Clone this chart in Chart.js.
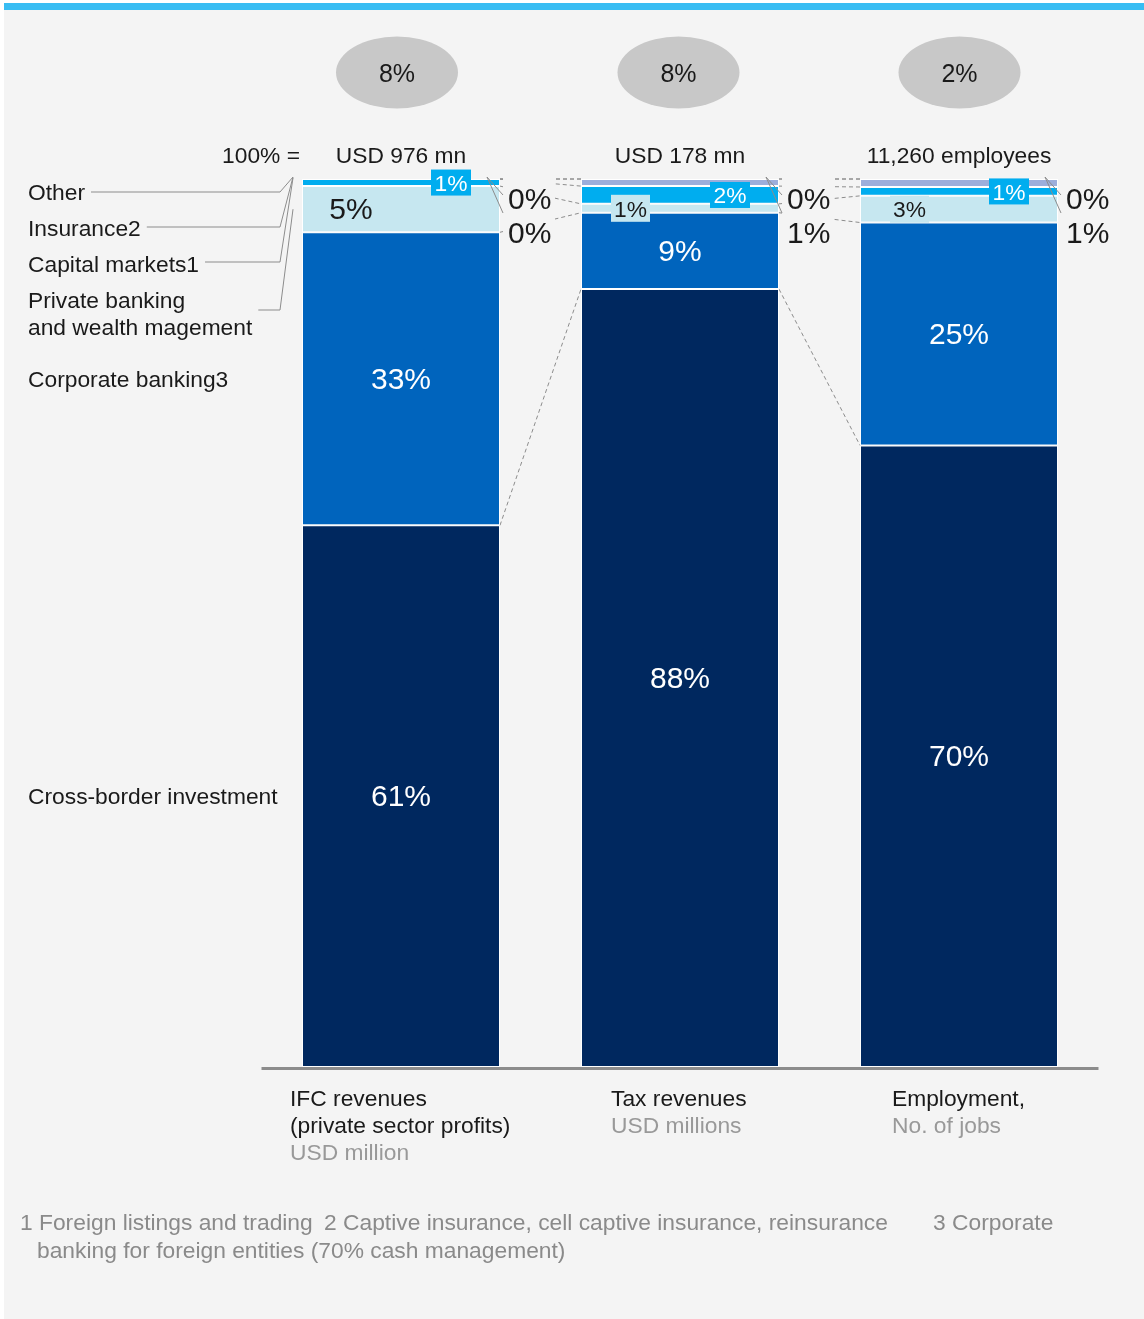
<!DOCTYPE html>
<html>
<head>
<meta charset="utf-8">
<script src="https://cdn.jsdelivr.net/npm/chart.js@4.4.1/dist/chart.umd.min.js"></script>
<style>
  html, body { margin: 0; padding: 0; background: #fff; }
  #panel { position: absolute; left: 4px; top: 3px; width: 1140px; height: 1316px; background: #f4f4f4; border-top: 7px solid #38bdf3; box-sizing: border-box; }
  #chart { position: absolute; left: 0; top: 0; }
</style>
</head>
<body>
<div id="panel"></div>
<canvas id="chart" width="1144" height="1319"></canvas>
<script>
"use strict";

// categories and headers
var categories = ["IFC revenues", "Tax revenues", "Employment"];
var catLines = [
    ["IFC revenues", "(private sector profits)", "USD million"],
    ["Tax revenues", "USD millions"],
    ["Employment,", "No. of jobs"]
];
var totals = ["USD 976 mn", "USD 178 mn", "11,260 employees"];
var shareOfEconomy = ["8%", "8%", "2%"];

// shares in %, bottom to top
var crossBorder      = [61, 87.6, 70];
var corporateBanking = [33, 8.6, 25.1];
var privateBanking   = [5.2, 1, 3];
var capitalMarkets   = [0.8, 2, 1];
var insurance        = [0, 0.8, 0.9];
var other            = [0, 0, 0];

var seriesNames = ["Cross-border investment", "Corporate banking3", "Private banking", "Capital markets1", "Insurance2", "Other"];
var colors = ["#00285f", "#0064bd", "#c6e7f0", "#00adef", "#9daedb", "#b8c4e4"];

var footnotes = [
    { text: "1 Foreign listings and trading", x: 20, y: 1222 },
    { text: "2 Captive insurance, cell captive insurance, reinsurance", x: 324, y: 1222 },
    { text: "3 Corporate", x: 933, y: 1222 },
    { text: "banking for foreign entities (70% cash management)", x: 37, y: 1250 }
];
var catLabelX = [290, 611, 892];
var bubbleShift = [-4, -1.5, 0.5];

var FONT = "'Liberation Sans', Arial, sans-serif";
var SMALL = 22.8;
function f(px) { return px + "px " + FONT; }
function pct(v) { return Math.round(v) + "%"; }

function text(ctx, s, x, y, px, color, align) {
    ctx.font = f(px);
    ctx.fillStyle = color;
    ctx.textAlign = align || "left";
    ctx.textBaseline = "middle";
    ctx.fillText(s, x, y + 2);
}

function line(ctx, pts, color, width, dash) {
    ctx.save();
    ctx.strokeStyle = color;
    ctx.lineWidth = width;
    ctx.setLineDash(dash || []);
    ctx.beginPath();
    ctx.moveTo(pts[0][0], pts[0][1]);
    for (var i = 1; i < pts.length; i++) ctx.lineTo(pts[i][0], pts[i][1]);
    ctx.stroke();
    ctx.restore();
}

var overlay = {
    id: "overlay",
    beforeDatasetsDraw: function(chart) {
        var ctx = chart.ctx;
        // dashed connectors between segment tops of neighbouring bars
        chart.data.datasets.forEach(function(ds, i) {
            var els = chart.getDatasetMeta(i).data;
            for (var j = 0; j < els.length - 1; j++) {
                var a = els[j], b = els[j + 1];
                line(ctx, [[a.x + a.width / 2, a.y], [b.x - b.width / 2, b.y]], "#8c8c8c", 1, [4, 3]);
            }
        });
    },
    afterDatasetsDraw: function(chart) {
        var ctx = chart.ctx;
        var area = chart.chartArea;
        var m = function(i) { return chart.getDatasetMeta(i).data; };
        var ds = chart.data.datasets;

        // axis line
        line(ctx, [[area.left, area.bottom + 1.5], [area.right, area.bottom + 1.5]], "#8c8c8c", 3);

        // big labels: cross-border and corporate banking
        [0, 1].forEach(function(i) {
            m(i).forEach(function(el, j) {
                text(ctx, pct(ds[i].data[j]), el.x, (el.y + el.base) / 2, 30, "#ffffff", "center");
            });
        });

        // private banking labels, left part of the bar
        m(2).forEach(function(el, j) {
            var cy = (el.y + el.base) / 2, v = pct(ds[2].data[j]);
            if (el.base - el.y > 30) {
                text(ctx, v, el.x - 50, cy, 30, "#1a1a1a", "center");
            } else {
                ctx.fillStyle = colors[2];
                ctx.fillRect(el.x - 69, cy - 13.5, 39, 27);
                text(ctx, v, el.x - 49.5, cy, SMALL, "#1a1a1a", "center");
            }
        });

        // capital markets labels, cyan boxes on the right
        m(3).forEach(function(el, j) {
            var cy = (el.y + el.base) / 2;
            ctx.fillStyle = colors[3];
            ctx.fillRect(el.x + 30, cy - 13, 40, 26);
            text(ctx, pct(ds[3].data[j]), el.x + 50, cy, SMALL, "#ffffff", "center");
        });

        // insurance / other callouts on the right
        m(4).forEach(function(el, j) {
            var r = el.x + el.width / 2;
            ctx.fillStyle = "#f4f4f4";
            ctx.fillRect(r + 3, area.top - 5, 52, 78);
            line(ctx, [[r - 13, area.top - 2], [r + 3, area.top + 16]], "#8c8c8c", 1);
            line(ctx, [[r - 13, area.top - 2], [r + 3, area.top + 34]], "#8c8c8c", 1);
            text(ctx, pct(ds[5].data[j]), r + 8, area.top + 20, 30, "#1a1a1a", "left");
            text(ctx, pct(ds[4].data[j]), r + 8, area.top + 54, 30, "#1a1a1a", "left");
        });

        // bubbles and totals above the bars
        m(0).forEach(function(el, j) {
            var bx = el.x + bubbleShift[j];
            ctx.fillStyle = "#c8c8c8";
            ctx.beginPath();
            ctx.ellipse(bx, 72.5, 61, 36, 0, 0, Math.PI * 2);
            ctx.fill();
            text(ctx, shareOfEconomy[j], bx, 73, 25, "#1a1a1a", "center");
            text(ctx, totals[j], el.x, 155, SMALL, "#1a1a1a", "center");
        });
        text(ctx, "100% =", 300, 155, SMALL, "#1a1a1a", "right");

        // category labels
        catLines.forEach(function(lines, j) {
            lines.forEach(function(s, k) {
                var grey = k === lines.length - 1;
                text(ctx, s, catLabelX[j], 1098 + k * 27, SMALL, grey ? "#999999" : "#1a1a1a", "left");
            });
        });

        // left legend
        var b0 = function(i) { var el = m(i)[0]; return (el.y + el.base) / 2; };
        var legend = [
            { s: "Other", y: 192, ly: 192, tx: 293, ty: area.top - 2 },
            { s: "Insurance2", y: 228, ly: 227, tx: 293, ty: area.top - 2 },
            { s: "Capital markets1", y: 264, ly: 262, tx: 293, ty: area.top - 1 },
            { s: "Private banking", y: 300 },
            { s: "and wealth magement", y: 327, ly: 310, tx: 293, ty: b0(2) }
        ];
        legend.forEach(function(l) {
            text(ctx, l.s, 28, l.y, SMALL, "#1a1a1a", "left");
            if (l.ly) {
                ctx.font = f(SMALL);
                var x0 = 28 + ctx.measureText(l.s).width + 6;
                line(ctx, [[x0, l.ly], [280, l.ly], [l.tx, l.ty]], "#8c8c8c", 1);
            }
        });
        text(ctx, seriesNames[1], 28, b0(1), SMALL, "#1a1a1a", "left");
        text(ctx, seriesNames[0], 28, b0(0), SMALL, "#1a1a1a", "left");

        // footnotes
        footnotes.forEach(function(n) {
            text(ctx, n.text, n.x, n.y, SMALL, "#8a8a8a", "left");
        });
    }
};

var series = [crossBorder, corporateBanking, privateBanking, capitalMarkets, insurance, other];
var config = {
    type: "bar",
    data: {
        labels: categories,
        datasets: series.map(function(d, i) {
            return {
                label: seriesNames[i],
                data: d,
                backgroundColor: colors[i],
                borderColor: "#ffffff",
                borderWidth: 1,
                borderSkipped: false,
                barPercentage: 0.7097,
                categoryPercentage: 1
            };
        })
    },
    options: {
        responsive: false,
        devicePixelRatio: 1,
        animation: false,
        layout: { padding: { top: 179, bottom: 252, left: 261.5, right: 45.5 } },
        plugins: { legend: { display: false }, tooltip: { enabled: false } },
        scales: {
            x: { display: false, stacked: true },
            y: { display: false, stacked: true, min: 0, max: 100 }
        }
    },
    plugins: [overlay]
};

var ctx = document.getElementById("chart").getContext("2d");
window.stack = new Chart(ctx, config);
</script>
</body>
</html>
